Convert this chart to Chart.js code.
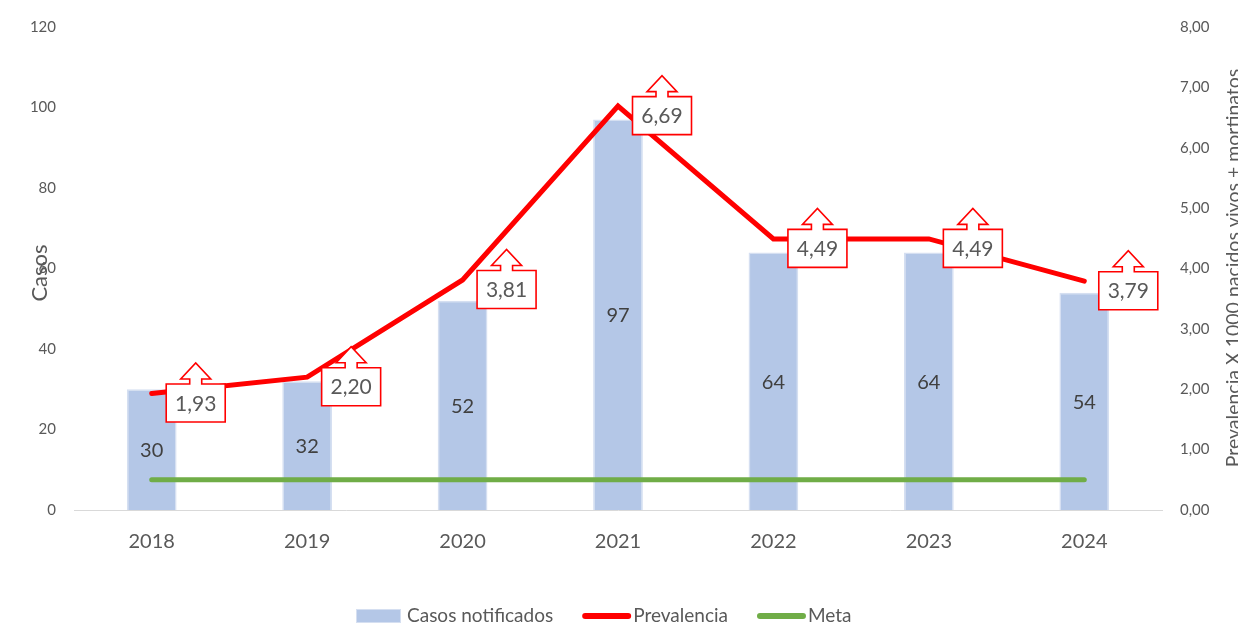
<!DOCTYPE html>
<html><head><meta charset="utf-8">
<script src="https://cdn.jsdelivr.net/npm/chart.js@4/dist/chart.umd.min.js"></script>
<style>html,body{margin:0;padding:0;background:#fff}#wrap{width:1238px;height:637px}</style>
</head><body><div id="wrap"><canvas id="c" width="1238" height="637"></canvas></div>
<script>
const years = ['2018','2019','2020','2021','2022','2023','2024'];
const casos = [30, 32, 52, 97, 64, 64, 54];
const prevalencia = [1.93, 2.20, 3.81, 6.69, 4.49, 4.49, 3.79];
const meta = [0.5, 0.5, 0.5, 0.5, 0.5, 0.5, 0.5];
const seriesNames = ['Casos notificados', 'Prevalencia', 'Meta'];
const leftTitle = 'Casos';
const rightTitle = 'Prevalencia X 1000 nacidos vivos + mortinatos';

const FONT = 'Lato, "Open Sans", sans-serif';
const BAR = '#B4C7E7', BAR_BORDER = '#D5DFF1', RED = '#FF0000', GREEN = '#70AD47', TXT = '#595959';
const BAR_IDX = 2, PREV_IDX = 0;

function fmt(v){ return v.toFixed(2).replace('.', ','); }

const overlay = {
  id: 'overlay',
  afterDatasetsDraw(chart){
    const ctx = chart.ctx;
    const bm = chart.getDatasetMeta(BAR_IDX);
    ctx.save();
    ctx.font = '20px ' + FONT;
    ctx.fillStyle = '#404040';
    ctx.textAlign = 'center'; ctx.textBaseline = 'middle';
    bm.data.forEach((el, i) => {
      const y = (el.y + el.base) / 2;
      ctx.fillText(String(casos[i]), el.x, y + 1);
    });
    const lm = chart.getDatasetMeta(PREV_IDX);
    ctx.font = '21px ' + FONT;
    lm.data.forEach((el, i) => {
      const cx = el.x + 44, cy = el.y + 9.5;
      const w = 59, h = 38, top = cy - h/2;
      ctx.beginPath();
      ctx.moveTo(cx - w/2, top);
      ctx.lineTo(cx - 6, top);
      ctx.lineTo(cx - 6, top - 5);
      ctx.lineTo(cx - 15, top - 5);
      ctx.lineTo(cx, top - 21);
      ctx.lineTo(cx + 15, top - 5);
      ctx.lineTo(cx + 6, top - 5);
      ctx.lineTo(cx + 6, top);
      ctx.lineTo(cx + w/2, top);
      ctx.lineTo(cx + w/2, top + h);
      ctx.lineTo(cx - w/2, top + h);
      ctx.closePath();
      ctx.fillStyle = '#fff';
      ctx.fill();
      ctx.strokeStyle = RED; ctx.lineWidth = 1.6; ctx.lineJoin = 'miter';
      ctx.stroke();
      ctx.fillStyle = TXT;
      ctx.fillText(fmt(prevalencia[i]), cx, cy + 1);
    });
    ctx.restore();
  },
  afterDraw(chart){
    const ctx = chart.ctx;
    ctx.save();
    ctx.fillStyle = TXT;
    ctx.textAlign = 'center'; ctx.textBaseline = 'middle';
    ctx.font = '22px ' + FONT;
    ctx.translate(40, 273); ctx.rotate(-Math.PI/2);
    ctx.fillText(leftTitle, 0, 0);
    ctx.setTransform(1,0,0,1,0,0);
    ctx.font = '19.5px ' + FONT;
    ctx.translate(1234, 268); ctx.rotate(-Math.PI/2);
    ctx.fillText(rightTitle, 0, 0);
    ctx.setTransform(1,0,0,1,0,0);
    ctx.font = '19px ' + FONT;
    ctx.textAlign = 'left';
    let x = 356; const y = 616;
    const items = [
      {t: seriesNames[0], type: 'rect', c: BAR},
      {t: seriesNames[1], type: 'line', c: RED},
      {t: seriesNames[2], type: 'line', c: GREEN}
    ];
    items.forEach(it => {
      if (it.type === 'rect') {
        ctx.fillStyle = it.c; ctx.fillRect(x, y - 7, 45, 14);
        ctx.strokeStyle = BAR_BORDER; ctx.lineWidth = 1; ctx.strokeRect(x + 0.5, y - 6.5, 44, 13);
      } else {
        ctx.strokeStyle = it.c; ctx.lineWidth = 6; ctx.lineCap = 'round';
        ctx.beginPath(); ctx.moveTo(x + 3, y); ctx.lineTo(x + 46, y); ctx.stroke();
      }
      ctx.fillStyle = TXT;
      ctx.fillText(it.t, x + 51, y);
      x += 51 + ctx.measureText(it.t).width + 29;
    });
    ctx.restore();
  }
};

new Chart(document.getElementById('c'), {
  data: {
    labels: years,
    datasets: [
      { type: 'line', label: seriesNames[1], data: prevalencia, yAxisID: 'y1', borderColor: RED, borderWidth: 5, pointRadius: 0, tension: 0, borderCapStyle: 'round', borderJoinStyle: 'miter', order: 2 },
      { type: 'line', label: seriesNames[2], data: meta, yAxisID: 'y1', borderColor: GREEN, borderWidth: 5, pointRadius: 0, tension: 0, borderCapStyle: 'round', order: 1 },
      { type: 'bar', label: seriesNames[0], data: casos, yAxisID: 'y', backgroundColor: BAR, borderColor: BAR_BORDER, borderWidth: 1.5, barPercentage: 0.32, categoryPercentage: 1, order: 3 }
    ]
  },
  options: {
    responsive: false,
    animation: false,
    devicePixelRatio: 1,
    layout: { padding: { top: 27, left: 0, right: 0, bottom: 0 } },
    plugins: { legend: { display: false }, tooltip: { enabled: false } },
    scales: {
      x: {
        grid: { display: false, drawTicks: false },
        border: { display: true, color: '#D9D9D9', width: 1 },
        ticks: { color: TXT, font: { family: FONT, size: 20 }, padding: 20 },
        afterFit(s){ s.height = 127; }
      },
      y: {
        position: 'left', min: 0, max: 120,
        grid: { display: false, drawTicks: false },
        border: { display: false },
        ticks: { stepSize: 20, color: TXT, font: { family: FONT, size: 15 }, padding: 18 },
        afterFit(s){ s.width = 74; }
      },
      y1: {
        position: 'right', min: 0, max: 8,
        grid: { display: false, drawTicks: false },
        border: { display: false },
        ticks: { stepSize: 1, color: TXT, font: { family: FONT, size: 15 }, padding: 18, callback: v => fmt(v) },
        afterFit(s){ s.width = 76; }
      }
    }
  },
  plugins: [overlay]
});
</script>
</body></html>
